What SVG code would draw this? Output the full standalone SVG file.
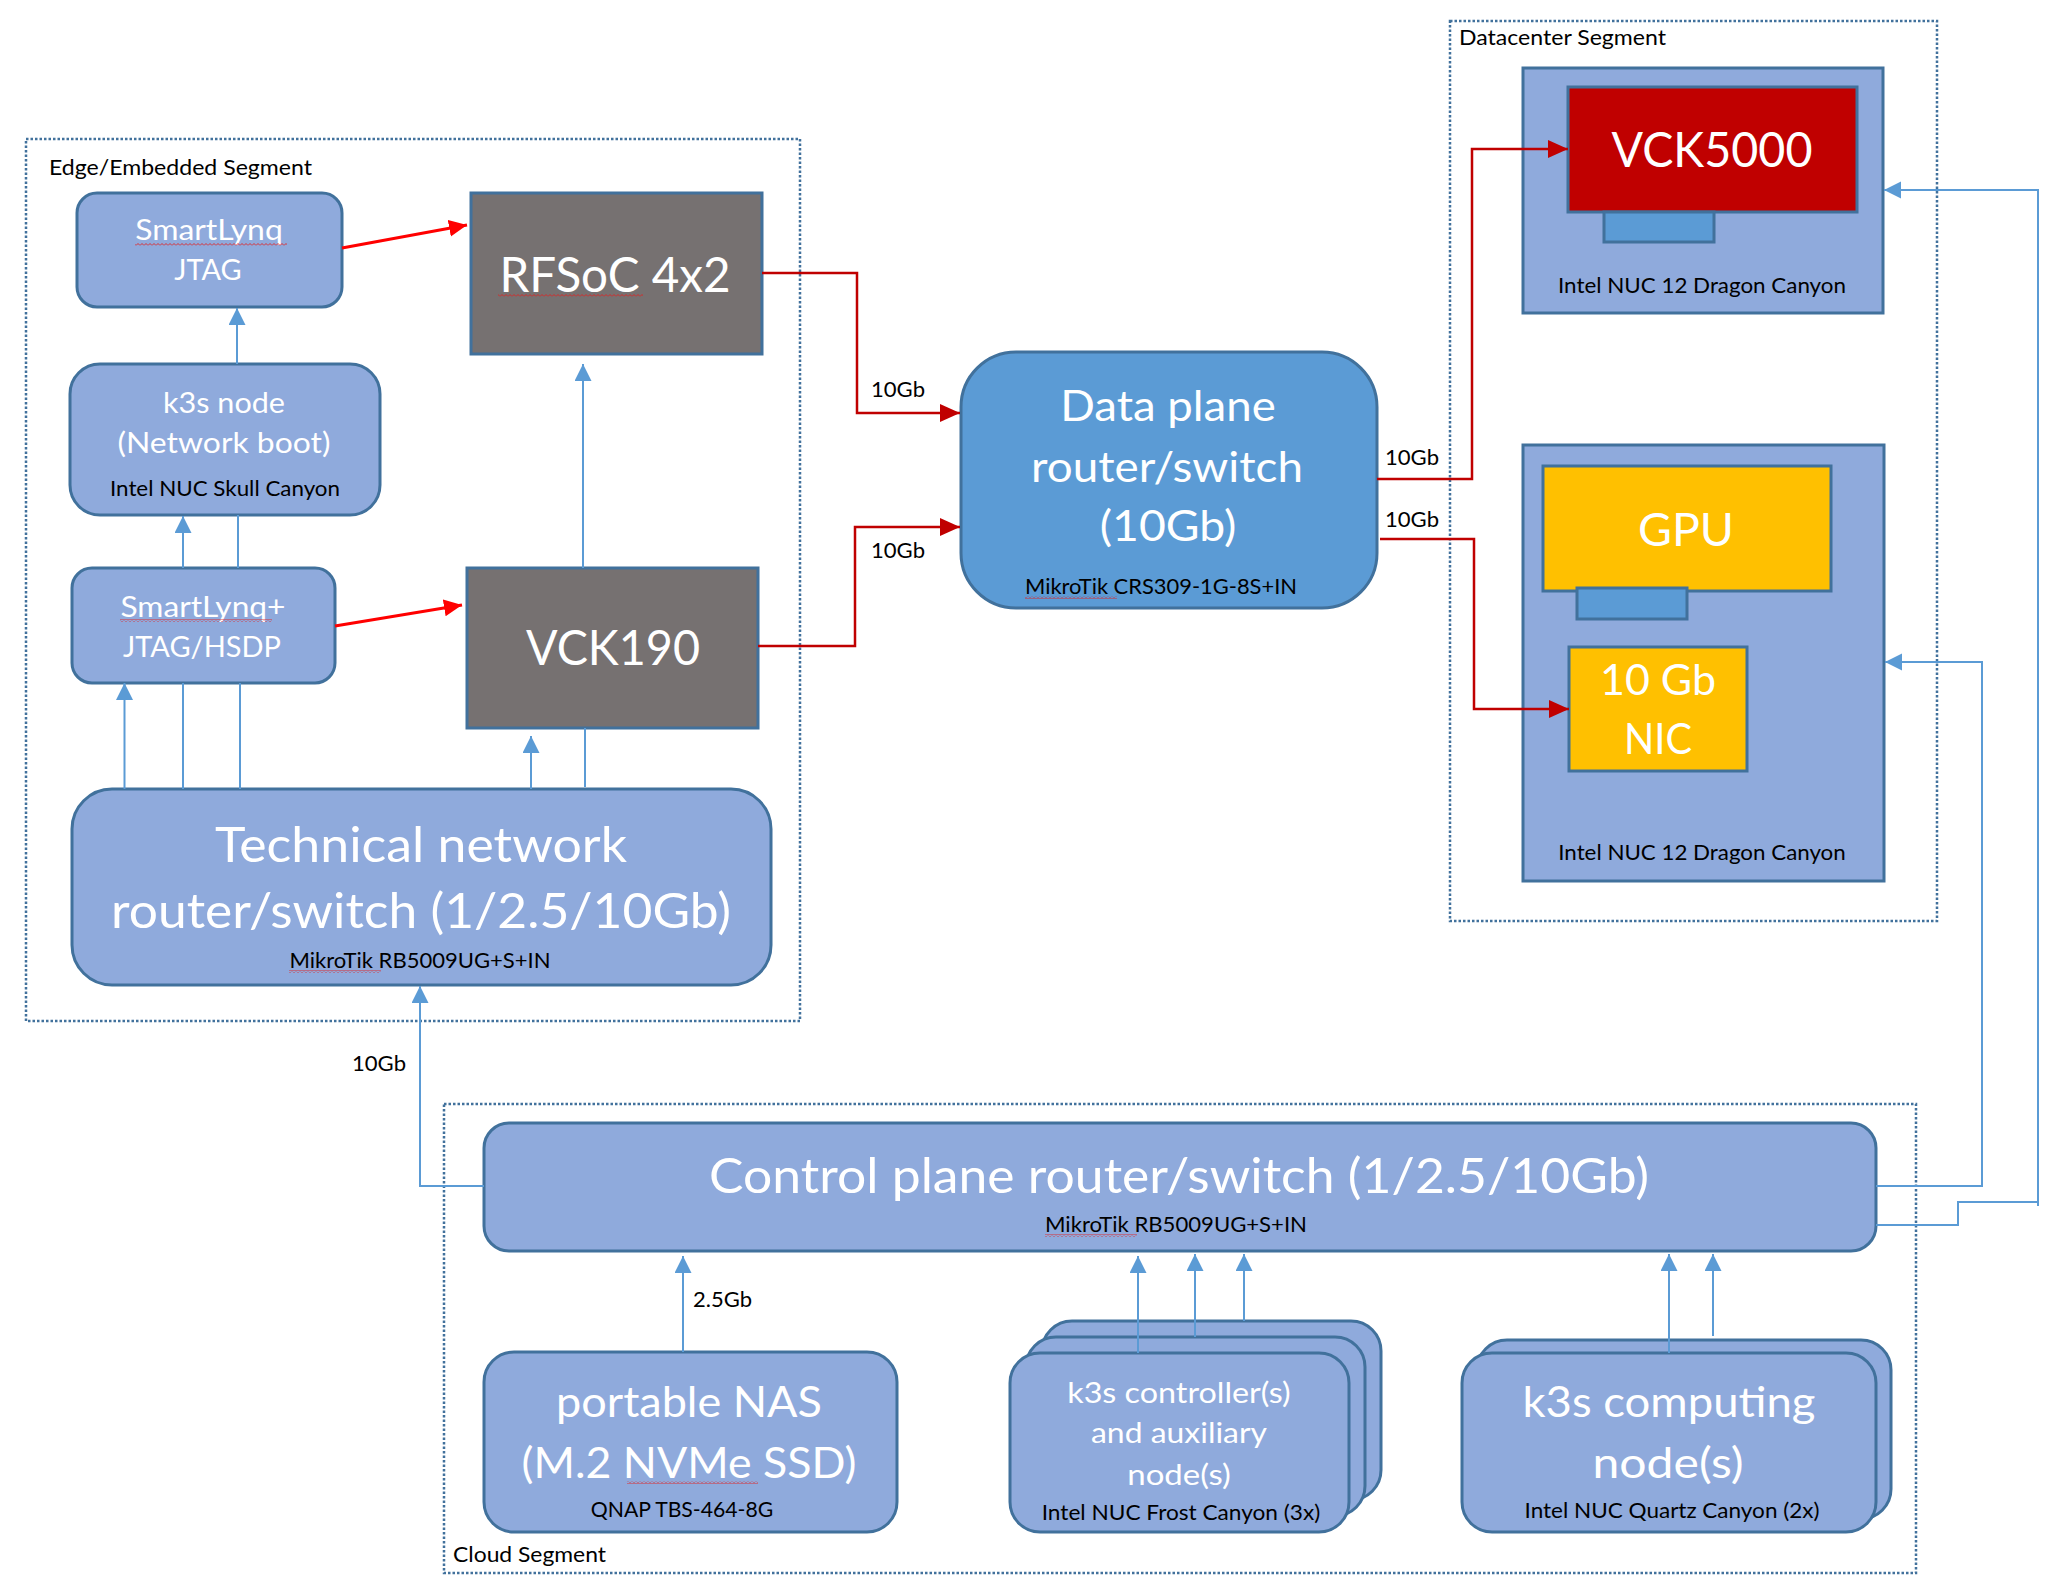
<svg xmlns="http://www.w3.org/2000/svg" width="2058" height="1593" viewBox="0 0 2058 1593">
<style>
text{font-family:Lato,"Liberation Sans","DejaVu Sans",sans-serif}
.w{fill:#FFFFFF}
.k{fill:#000000}
.m{text-anchor:middle}
.box{fill:#8FAADC;stroke:#41719C;stroke-width:3}
.dark{fill:#767171;stroke:#41719C;stroke-width:3}
.seg{fill:none;stroke:#41719C;stroke-width:2.5;stroke-dasharray:2.5 2}
.bl{fill:none;stroke:#5B9BD5;stroke-width:2}
.rd{fill:none;stroke:#FF0000;stroke-width:3}
.dr{fill:none;stroke:#C00000;stroke-width:2.5}
.s22{font-size:21.5px}
.s30{font-size:29.5px}
.s43{font-size:43px}
.s48{font-size:48px}
.s49{font-size:49px}
.sq{fill:url(#squig)}
</style>
<defs>
<marker id="ab" markerUnits="userSpaceOnUse" markerWidth="18" markerHeight="18" refX="17" refY="8.5" orient="auto"><path d="M0,0 L17,8.5 L0,17 z" fill="#5B9BD5"/></marker>
<marker id="ar" markerUnits="userSpaceOnUse" markerWidth="19" markerHeight="18" refX="18" refY="8.5" orient="auto"><path d="M0,0 L18,8.5 L0,17 z" fill="#FF0000"/></marker>
<marker id="adr" markerUnits="userSpaceOnUse" markerWidth="21" markerHeight="19" refX="20" refY="9" orient="auto"><path d="M0,0 L20,9 L0,18 z" fill="#C00000"/></marker>
<pattern id="squig" patternUnits="userSpaceOnUse" width="4" height="3"><path d="M0,2.5 L2,0.5 L4,2.5" fill="none" stroke="#E02020" stroke-width="0.9"/></pattern>
</defs>
<rect width="2058" height="1593" fill="#FFFFFF"/>

<g id="edge-segment">
<rect class="seg" x="26" y="139" width="774" height="882"/>
<text class="k s22" x="49" y="175" textLength="263" lengthAdjust="spacingAndGlyphs">Edge/Embedded Segment</text>
</g>
<g id="datacenter-segment">
<rect class="seg" x="1450" y="21" width="487" height="900"/>
<text class="k s22" x="1459" y="45" textLength="207" lengthAdjust="spacingAndGlyphs">Datacenter Segment</text>
</g>
<g id="cloud-segment">
<rect class="seg" x="444" y="1104" width="1472" height="469"/>
<text class="k s22" x="453" y="1562" textLength="153" lengthAdjust="spacingAndGlyphs">Cloud Segment</text>
</g>

<g id="smartlynq-jtag">
<rect class="box" x="77" y="193" width="265" height="114" rx="20"/>
<text class="w s30 m" x="209" y="240" textLength="147.5" lengthAdjust="spacingAndGlyphs">SmartLynq</text>
<text class="w s30 m" x="208" y="280" textLength="67.5" lengthAdjust="spacingAndGlyphs">JTAG</text>
<rect class="sq" x="135" y="243" width="152" height="3"/>
</g>

<g id="rfsoc">
<rect class="dark" x="471" y="193" width="291" height="161"/>
<text class="w s48 m" x="615" y="292" textLength="231" lengthAdjust="spacingAndGlyphs">RFSoC 4x2</text>
<rect class="sq" x="498" y="294" width="145" height="3"/>
</g>

<g id="k3s-node">
<rect class="box" x="70" y="364" width="310" height="151" rx="30"/>
<text class="w s30 m" x="224" y="413" textLength="122" lengthAdjust="spacingAndGlyphs">k3s node</text>
<text class="w s30 m" x="224" y="453" textLength="213" lengthAdjust="spacingAndGlyphs">(Network boot)</text>
<text class="k s22 m" x="225" y="496" textLength="230" lengthAdjust="spacingAndGlyphs">Intel NUC Skull Canyon</text>
</g>

<g id="smartlynq-plus">
<rect class="box" x="72" y="568" width="263" height="115" rx="20"/>
<text class="w s30 m" x="203" y="617" textLength="165" lengthAdjust="spacingAndGlyphs">SmartLynq+</text>
<text class="w s30 m" x="202" y="657" textLength="158" lengthAdjust="spacingAndGlyphs">JTAG/HSDP</text>
<rect class="sq" x="120" y="619" width="152" height="3"/>
</g>

<g id="vck190">
<rect class="dark" x="467" y="568" width="291" height="160"/>
<text class="w s48 m" x="613" y="665" textLength="174" lengthAdjust="spacingAndGlyphs">VCK190</text>
</g>

<g id="technical-network">
<rect class="box" x="72" y="789" width="699" height="196" rx="40"/>
<text class="w s49 m" x="421" y="862" textLength="412" lengthAdjust="spacingAndGlyphs">Technical network</text>
<text class="w s49 m" x="421" y="928" textLength="620" lengthAdjust="spacingAndGlyphs">router/switch (1/2.5/10Gb)</text>
<text class="k s22 m" x="420" y="968" textLength="261" lengthAdjust="spacingAndGlyphs">MikroTik RB5009UG+S+IN</text>
<rect class="sq" x="289" y="970" width="92" height="3"/>
</g>

<g id="data-plane">
<rect x="961" y="352" width="416" height="256" rx="55" fill="#5B9BD5" stroke="#41719C" stroke-width="3"/>
<text class="w m" style="font-size:42.5px" x="1168" y="421" textLength="215.5" lengthAdjust="spacingAndGlyphs">Data plane</text>
<text class="w m" style="font-size:42.5px" x="1167" y="482" textLength="272" lengthAdjust="spacingAndGlyphs">router/switch</text>
<text class="w m" style="font-size:42.5px" x="1168" y="541" textLength="136.6" lengthAdjust="spacingAndGlyphs">(10Gb)</text>
<text class="k s22 m" x="1161" y="594" textLength="272" lengthAdjust="spacingAndGlyphs">MikroTik CRS309-1G-8S+IN</text>
<rect class="sq" x="1025" y="596" width="92" height="3"/>
</g>

<g id="nuc-vck5000">
<rect class="box" x="1523" y="68" width="360" height="245"/>
<rect x="1568" y="87" width="289" height="125" fill="#C00000" stroke="#41719C" stroke-width="3"/>
<rect x="1604" y="212" width="110" height="30" fill="#5B9BD5" stroke="#41719C" stroke-width="3"/>
<text class="w s48 m" x="1712" y="167" textLength="201" lengthAdjust="spacingAndGlyphs">VCK5000</text>
<text class="k s22 m" x="1702" y="293" textLength="288" lengthAdjust="spacingAndGlyphs">Intel NUC 12 Dragon Canyon</text>
</g>

<g id="nuc-gpu">
<rect class="box" x="1523" y="445" width="361" height="436"/>
<rect x="1543" y="466" width="288" height="125" fill="#FFC000" stroke="#41719C" stroke-width="3"/>
<rect x="1577" y="588" width="110" height="31" fill="#5B9BD5" stroke="#41719C" stroke-width="3"/>
<text class="w m" style="font-size:46.5px" x="1686" y="546" textLength="96" lengthAdjust="spacingAndGlyphs">GPU</text>
<rect x="1569" y="647" width="178" height="124" fill="#FFC000" stroke="#41719C" stroke-width="3"/>
<text class="w s43 m" x="1658" y="695" textLength="116" lengthAdjust="spacingAndGlyphs">10 Gb</text>
<text class="w s43 m" x="1658" y="754" textLength="68" lengthAdjust="spacingAndGlyphs">NIC</text>
<text class="k s22 m" x="1702" y="860" textLength="287.5" lengthAdjust="spacingAndGlyphs">Intel NUC 12 Dragon Canyon</text>
</g>

<g id="control-plane">
<rect class="box" x="484" y="1123" width="1392" height="128" rx="25"/>
<text class="w s49 m" x="1179" y="1193" textLength="940" lengthAdjust="spacingAndGlyphs">Control plane router/switch (1/2.5/10Gb)</text>
<text class="k s22 m" x="1176" y="1232" textLength="262" lengthAdjust="spacingAndGlyphs">MikroTik RB5009UG+S+IN</text>
<rect class="sq" x="1045" y="1234" width="92" height="3"/>
</g>

<g id="portable-nas">
<rect class="box" x="484" y="1352" width="413" height="180" rx="30"/>
<text class="w s43 m" x="689" y="1417" textLength="266" lengthAdjust="spacingAndGlyphs">portable NAS</text>
<text class="w s43 m" x="689" y="1478" textLength="335" lengthAdjust="spacingAndGlyphs">(M.2 NVMe SSD)</text>
<text class="k s22 m" x="682" y="1517" textLength="182.5" lengthAdjust="spacingAndGlyphs">QNAP TBS-464-8G</text>
<rect class="sq" x="627" y="1481" width="131" height="3"/>
</g>

<g id="k3s-controllers">
<rect class="box" x="1042" y="1321" width="339" height="179" rx="30"/>
<rect class="box" x="1026" y="1337" width="339" height="179" rx="30"/>
<rect class="box" x="1010" y="1353" width="339" height="179" rx="30"/>
<text class="w s30 m" x="1179" y="1403" textLength="223.5" lengthAdjust="spacingAndGlyphs">k3s controller(s)</text>
<text class="w s30 m" x="1179" y="1443" textLength="176" lengthAdjust="spacingAndGlyphs">and auxiliary</text>
<text class="w s30 m" x="1179" y="1485" textLength="103.5" lengthAdjust="spacingAndGlyphs">node(s)</text>
<text class="k s22 m" x="1181" y="1520" textLength="278.6" lengthAdjust="spacingAndGlyphs">Intel NUC Frost Canyon (3x)</text>
</g>

<g id="k3s-computing">
<rect class="box" x="1477" y="1340" width="414" height="179" rx="30"/>
<rect class="box" x="1462" y="1353" width="414" height="179" rx="30"/>
<text class="w s43 m" x="1669" y="1417" textLength="293" lengthAdjust="spacingAndGlyphs">k3s computing</text>
<text class="w s43 m" x="1668" y="1478" textLength="151" lengthAdjust="spacingAndGlyphs">node(s)</text>
<text class="k s22 m" x="1672" y="1518" textLength="295" lengthAdjust="spacingAndGlyphs">Intel NUC Quartz Canyon (2x)</text>
</g>

<g id="connectors">
<path class="bl" d="M237,364 L237,308" marker-end="url(#ab)"/>
<path class="bl" d="M183,568 L183,516" marker-end="url(#ab)"/>
<path class="bl" d="M238,568 L238,515"/>
<path class="bl" d="M124.5,789 L124.5,683" marker-end="url(#ab)"/>
<path class="bl" d="M183,789 L183,683"/>
<path class="bl" d="M240,789 L240,683"/>
<path class="bl" d="M531,789 L531,736" marker-end="url(#ab)"/>
<path class="bl" d="M585,787 L585,728"/>
<path class="bl" d="M583,568 L583,364" marker-end="url(#ab)"/>
<path class="bl" d="M484,1186 L420,1186 L420,986" marker-end="url(#ab)"/>
<path class="bl" d="M683,1352 L683,1256" marker-end="url(#ab)"/>
<path class="bl" d="M1138,1353 L1138,1256" marker-end="url(#ab)"/>
<path class="bl" d="M1195,1337 L1195,1254" marker-end="url(#ab)"/>
<path class="bl" d="M1244,1321 L1244,1254" marker-end="url(#ab)"/>
<path class="bl" d="M1669,1353 L1669,1254" marker-end="url(#ab)"/>
<path class="bl" d="M1713,1336 L1713,1254" marker-end="url(#ab)"/>
<path class="bl" d="M1876,1186 L1982,1186 L1982,662 L1885,662" marker-end="url(#ab)"/>
<path class="bl" d="M1876,1225 L1958,1225 L1958,1202 L2038,1202 L2038,190 L1884,190" marker-end="url(#ab)"/>
<path class="bl" d="M2038,1202 L2038,1206"/>
<path class="rd" d="M342,248 L467,225" marker-end="url(#ar)"/>
<path class="rd" d="M335,626 L462,605" marker-end="url(#ar)"/>
<path class="dr" d="M762,273 L857,273 L857,413 L960,413" marker-end="url(#adr)"/>
<path class="dr" d="M758,646 L855,646 L855,527 L960,527" marker-end="url(#adr)"/>
<path class="dr" d="M1377,479 L1472,479 L1472,149 L1568,149" marker-end="url(#adr)"/>
<path class="dr" d="M1380,539 L1474,539 L1474,709 L1569,709" marker-end="url(#adr)"/>
<text class="k s22" x="871" y="397" textLength="54" lengthAdjust="spacingAndGlyphs">10Gb</text>
<text class="k s22" x="871" y="558" textLength="54" lengthAdjust="spacingAndGlyphs">10Gb</text>
<text class="k s22" x="1385" y="465" textLength="54" lengthAdjust="spacingAndGlyphs">10Gb</text>
<text class="k s22" x="1385" y="527" textLength="54" lengthAdjust="spacingAndGlyphs">10Gb</text>
<text class="k s22" x="352" y="1071" textLength="54" lengthAdjust="spacingAndGlyphs">10Gb</text>
<text class="k s22" x="693" y="1307" textLength="59" lengthAdjust="spacingAndGlyphs">2.5Gb</text>
</g>
</svg>
